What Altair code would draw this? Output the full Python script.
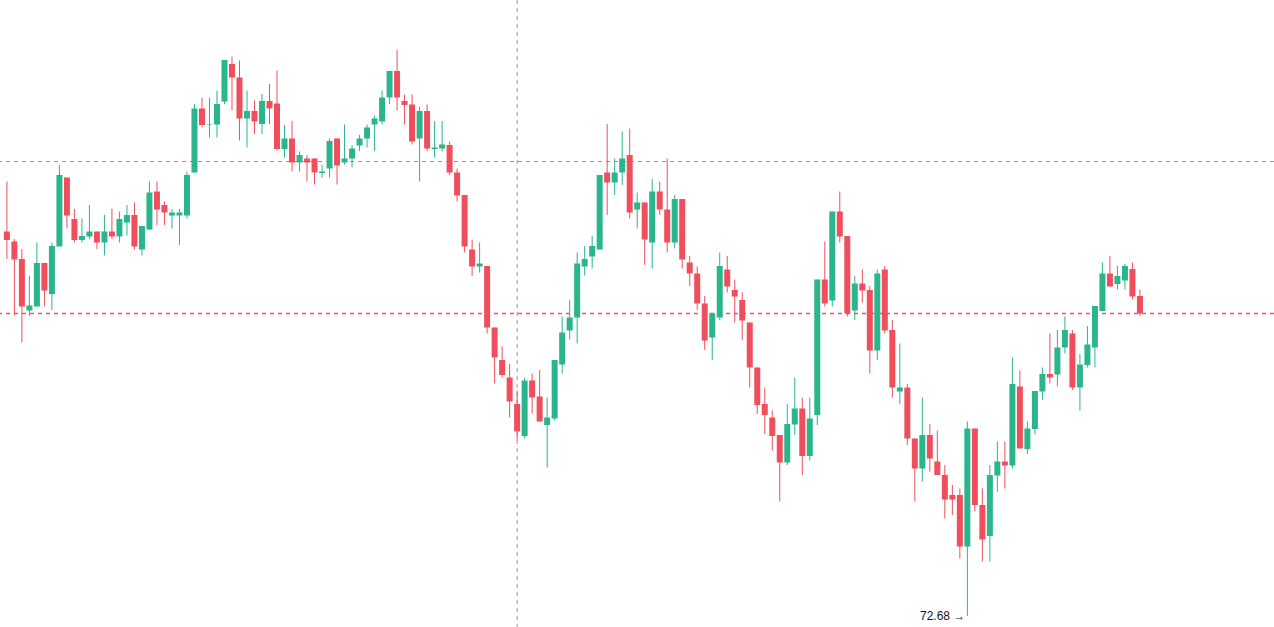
import altair as alt
import pandas as pd

opens = [80.37, 80.17, 79.82, 78.79, 78.87, 79.74, 79.12, 80.07, 81.45, 80.62,
         80.20, 80.27, 80.37, 80.15, 80.37, 80.27, 80.55, 80.70, 80.01, 80.41,
         81.17, 80.90, 80.69, 80.69, 80.69, 81.55, 82.83, 82.51, 82.51, 82.97,
         83.72, 83.45, 82.63, 82.78, 82.52, 82.98, 82.93, 82.02, 82.23, 81.75,
         81.83, 81.83, 81.54, 81.63, 82.23, 81.75, 81.83, 82.09, 82.23, 82.51,
         82.57, 83.05, 83.58, 82.98, 82.91, 82.23, 82.78, 82.02, 82.03, 82.10,
         81.55, 81.10, 80.01, 79.67, 79.68, 78.45, 77.80, 77.45, 76.92, 76.28,
         77.39, 77.07, 76.50, 76.63, 77.71, 78.39, 78.65, 79.67, 79.87, 80.01,
         81.55, 81.35, 81.55, 81.90, 80.81, 80.95, 80.15, 81.17, 80.81, 80.15,
         81.02, 79.75, 79.53, 78.93, 78.25, 78.65, 79.61, 79.20, 79.00, 78.55,
         77.65, 76.92, 76.65, 76.30, 75.75, 76.51, 76.83, 75.88, 76.70, 79.41,
         78.99, 80.77, 80.28, 78.79, 79.33, 79.20, 77.99, 79.61, 78.40, 77.17,
         77.25, 76.23, 75.63, 76.30, 75.77, 75.50, 75.10, 75.10, 74.07, 76.43,
         74.90, 74.28, 75.49, 75.77, 75.69, 77.27, 76.02, 76.42, 77.17, 77.52,
         77.51, 78.05, 78.33, 77.25, 77.70, 78.05, 78.78, 79.53, 79.32, 79.39,
         79.62, 79.08]
highs = [81.37, 80.22, 80.02, 79.49, 80.15, 79.74, 80.15, 81.70, 81.45, 80.82,
         80.63, 80.90, 80.37, 80.70, 80.83, 80.77, 80.90, 80.95, 80.48, 81.37,
         81.37, 80.97, 80.82, 80.82, 81.57, 82.92, 83.05, 83.05, 83.19, 83.80,
         83.87, 83.79, 83.19, 82.99, 83.12, 83.32, 83.59, 82.50, 82.58, 81.97,
         81.90, 81.83, 81.70, 82.23, 82.23, 82.51, 82.10, 82.30, 82.51, 82.69,
         83.19, 83.58, 84.00, 83.11, 83.11, 82.87, 82.91, 82.58, 82.58, 82.17,
         81.63, 81.10, 80.21, 80.15, 79.68, 78.45, 78.07, 77.72, 77.19, 77.45,
         77.53, 77.60, 77.05, 77.80, 78.67, 79.00, 79.95, 80.08, 80.28, 81.50,
         82.52, 81.83, 82.37, 82.43, 81.15, 80.95, 81.42, 81.37, 81.83, 81.10,
         81.02, 79.88, 79.67, 79.08, 78.73, 79.95, 79.88, 79.41, 79.15, 78.55,
         77.65, 77.25, 76.79, 76.30, 76.92, 77.45, 77.05, 77.05, 79.41, 80.17,
         80.77, 81.17, 80.28, 79.48, 79.61, 79.28, 79.61, 79.68, 78.60, 78.13,
         77.32, 76.23, 77.05, 76.52, 76.39, 75.70, 75.30, 75.23, 76.57, 76.43,
         75.23, 75.70, 76.17, 76.17, 77.85, 77.59, 76.57, 77.18, 77.65, 78.33,
         78.40, 78.67, 78.40, 77.92, 78.48, 78.88, 79.75, 79.88, 79.68, 79.72,
         79.75, 79.21]
lows = [79.82, 78.69, 78.15, 78.68, 78.87, 78.87, 78.80, 80.07, 80.43, 80.15,
        80.15, 80.22, 80.02, 79.89, 80.22, 80.15, 80.29, 80.01, 79.89, 80.41,
        80.50, 80.50, 80.43, 80.10, 80.63, 81.55, 82.45, 82.25, 82.25, 82.92,
        82.79, 82.19, 82.05, 82.32, 82.32, 82.52, 81.99, 81.85, 81.57, 81.57,
        81.37, 81.31, 81.45, 81.45, 81.31, 81.71, 81.65, 81.98, 82.05, 81.98,
        82.51, 82.92, 82.79, 82.51, 82.11, 81.37, 81.98, 81.85, 81.97, 81.50,
        80.97, 79.95, 79.48, 79.55, 78.33, 77.33, 77.45, 76.65, 76.19, 76.23,
        76.73, 76.57, 75.65, 76.59, 77.53, 78.21, 78.13, 79.49, 79.63, 80.01,
        80.70, 81.10, 81.30, 80.63, 80.43, 79.70, 79.63, 80.70, 79.95, 80.03,
        79.63, 79.28, 78.80, 78.00, 77.80, 78.60, 79.15, 78.55, 78.20, 77.25,
        76.72, 76.32, 75.99, 74.97, 75.70, 76.30, 75.50, 75.79, 76.50, 78.87,
        78.87, 80.15, 78.67, 78.60, 78.95, 77.53, 77.80, 78.33, 77.05, 76.92,
        76.10, 74.97, 75.37, 75.57, 75.50, 74.63, 74.70, 73.83, 72.68, 74.77,
        73.77, 73.77, 75.17, 75.23, 75.63, 76.03, 75.92, 76.31, 77.00, 77.33,
        77.27, 77.93, 77.20, 76.79, 77.65, 77.65, 78.78, 79.27, 79.21, 79.21,
        79.01, 78.68]
closes = [80.20, 79.81, 78.87, 78.89, 79.74, 79.19, 80.08, 81.50, 80.69, 80.20,
          80.28, 80.37, 80.15, 80.37, 80.27, 80.62, 80.70, 80.07, 80.48, 81.15,
          80.81, 80.75, 80.75, 80.75, 81.50, 82.83, 82.50, 82.52, 82.92, 83.80,
          83.45, 82.63, 82.78, 82.57, 82.98, 82.83, 82.02, 82.23, 81.75, 81.90,
          81.75, 81.55, 81.57, 82.18, 81.69, 81.83, 82.03, 82.23, 82.45, 82.63,
          83.05, 83.58, 83.05, 82.90, 82.17, 82.78, 82.03, 82.05, 82.11, 81.55,
          81.09, 80.07, 79.67, 79.73, 78.45, 77.85, 77.50, 76.97, 76.37, 77.39,
          77.05, 76.57, 76.65, 77.80, 78.35, 78.65, 79.73, 79.82, 80.08, 81.50,
          81.35, 81.55, 81.83, 80.75, 80.95, 80.21, 81.17, 80.81, 80.15, 81.02,
          79.81, 79.53, 78.93, 78.19, 78.73, 79.68, 79.27, 79.07, 78.59, 77.65,
          76.90, 76.70, 76.28, 75.75, 76.52, 76.83, 75.88, 76.63, 79.41, 78.93,
          80.77, 80.27, 78.73, 79.33, 79.19, 77.99, 79.53, 78.39, 77.25, 77.25,
          76.23, 75.63, 76.30, 75.83, 75.50, 75.01, 75.01, 74.07, 76.43, 74.90,
          74.21, 75.50, 75.77, 75.69, 77.32, 76.03, 76.43, 77.18, 77.52, 77.45,
          78.05, 78.40, 77.25, 77.71, 78.11, 78.88, 79.53, 79.27, 79.48, 79.68,
          79.07, 78.73]

low_label = "72.68 →"
low_index = 128
low_value = 72.68
crosshair_index = 68
crosshair_price = 81.77
last_price = closes[-1]

GREEN = "#2bb58c"
RED = "#ef4f5d"

df = pd.DataFrame({
    "i": list(range(len(opens))),
    "open": opens,
    "high": highs,
    "low": lows,
    "close": closes,
})
df["dir"] = ["up" if c >= o else "down" for o, c in zip(opens, closes)]

xs = alt.Scale(domain=[-0.251, 168.2], nice=False, zero=False)
ys = alt.Scale(domain=[72.46, 85.0], nice=False, zero=False)
color = alt.Color(
    "dir:N",
    scale=alt.Scale(domain=["up", "down", "cross", "last"],
                    range=[GREEN, RED, "#9598a1", "#ec5565"]),
    legend=None,
)

base = alt.Chart(df)
wicks = base.mark_rule(strokeWidth=1).encode(
    x=alt.X("i:Q", scale=xs, axis=None),
    y=alt.Y("low:Q", scale=ys, axis=None),
    y2="high:Q",
    color=color,
)
bodies = base.mark_bar(size=6, strokeWidth=0).encode(
    x=alt.X("i:Q", scale=xs, axis=None),
    y=alt.Y("open:Q", scale=ys, axis=None),
    y2="close:Q",
    color=color,
)

hline = alt.Chart(pd.DataFrame({"price": [crosshair_price], "dir": ["cross"]})).mark_rule(
    strokeWidth=1, strokeDash=[4, 4]
).encode(y=alt.Y("price:Q", scale=ys, axis=None), color=color)
vline = alt.Chart(pd.DataFrame({"k": [crosshair_index], "dir": ["cross"]})).mark_rule(
    strokeWidth=1, strokeDash=[4, 4]
).encode(x=alt.X("k:Q", scale=xs, axis=None), color=color)
pline = alt.Chart(pd.DataFrame({"price": [last_price], "dir": ["last"]})).mark_rule(
    strokeWidth=1.5, strokeDash=[4, 4]
).encode(y=alt.Y("price:Q", scale=ys, axis=None), color=color)

label = alt.Chart(pd.DataFrame({"k": [low_index], "p": [low_value], "t": [low_label]})).mark_text(
    align="right", baseline="middle", dx=-2, fontSize=12, font="Liberation Sans", fill="#131722"
).encode(
    x=alt.X("k:Q", scale=xs, axis=None),
    y=alt.Y("p:Q", scale=ys, axis=None),
    text="t:N",
)

chart = alt.layer(hline, vline, pline, wicks, bodies, label).properties(
    width=1274, height=627, autosize=alt.AutoSizeParams(type="none"), padding=0,
    background="white",
).configure_view(stroke=None)

chart.save("out.html", embed_options={"renderer": "svg", "actions": False})
